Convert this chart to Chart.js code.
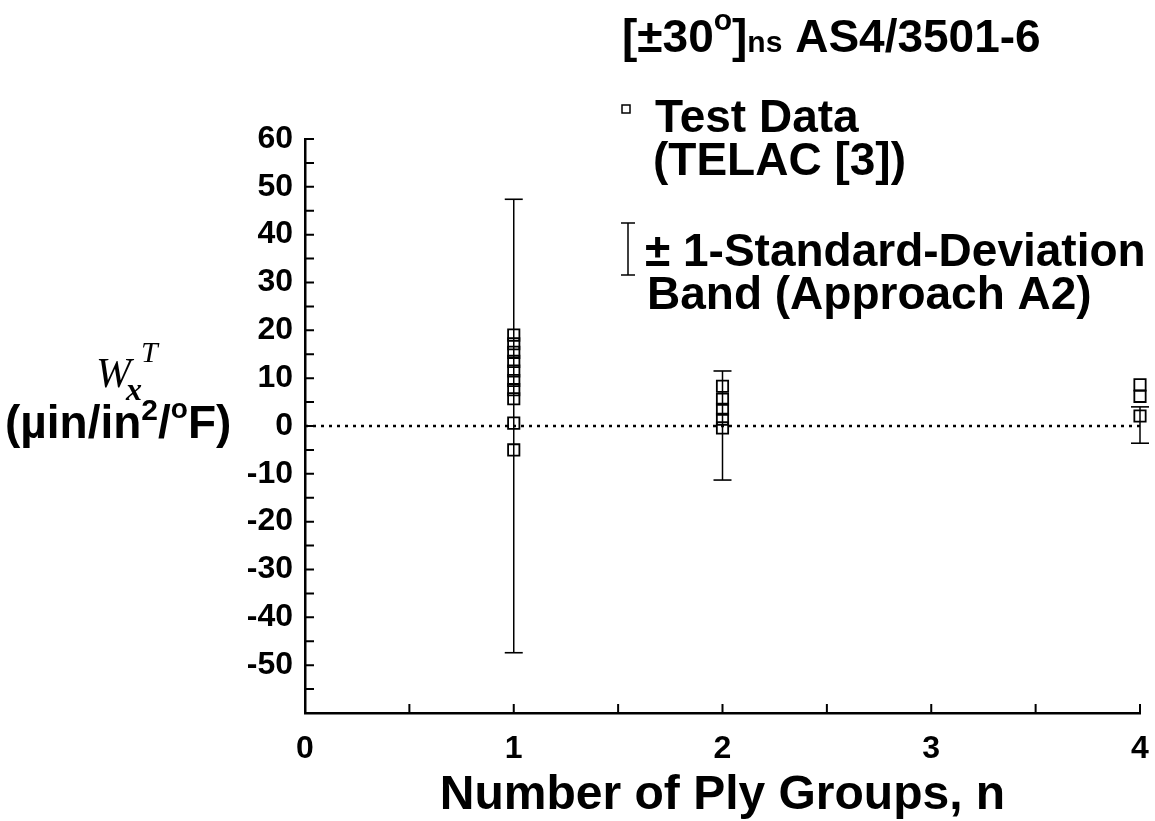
<!DOCTYPE html>
<html>
<head>
<meta charset="utf-8">
<script src="https://cdn.jsdelivr.net/npm/chart.js@4.4.1/dist/chart.umd.min.js"></script>
<style>
  html, body { margin: 0; background: #fff; }
  #wrap { width: 1155px; height: 821px; }
</style>
</head>
<body>
<div id="wrap"><canvas id="plyChart"></canvas></div>
<script>
// thermal warping coefficient vs number of ply groups
const plyGroups = [1, 2, 4];
const testDataN1 = [19.0, 17.2, 15.4, 13.5, 11.5, 9.5, 7.6, 5.7, 0.6, -5.0];
const testDataN2 = [8.3, 5.6, 3.5, 1.4, -0.4];
const testDataN4 = [8.6, 6.2, 2.1];
const bandLow = [-47.4, -11.3, -3.6];
const bandHigh = [47.4, 11.5, 4.0];
const xRange = [0, 4];
const yRange = [-60, 60];
const yMinorStep = 5;
const xMinorStep = 0.5;

const SANS = '"Liberation Sans", Arial, sans-serif';
const SERIF = '"Liberation Serif", "Times New Roman", serif';

const testPoints = [];
[testDataN1, testDataN2, testDataN4].forEach((vals, i) => {
    vals.forEach(v => testPoints.push({ x: plyGroups[i], y: v }));
});

const bandSets = plyGroups.map((n, i) => ({
    type: 'scatter',
    data: [{ x: n, y: bandLow[i] }, { x: n, y: bandHigh[i] }],
    showLine: true,
    clip: false,
    borderColor: '#000',
    borderWidth: 1.5,
    pointStyle: 'line',
    pointRadius: 9,
    pointBorderWidth: 1.6,
    pointBorderColor: '#000'
}));

// draw a row of text pieces with their own font and vertical shift
function drawRuns(ctx, x, baseline, runs) {
    ctx.textAlign = 'left';
    ctx.textBaseline = 'alphabetic';
    runs.forEach(r => {
        ctx.font = r.font;
        ctx.fillText(r.text, x, baseline + (r.dy || 0));
        x += ctx.measureText(r.text).width;
    });
}

const decorations = {
    id: 'decorations',
    afterDraw(chart) {
        const ctx = chart.ctx;
        const xs = chart.scales.x, ys = chart.scales.y;
        ctx.save();
        ctx.strokeStyle = '#000';
        ctx.fillStyle = '#000';

        // inward tick marks
        ctx.lineWidth = 2;
        ctx.beginPath();
        for (let v = yRange[0] + yMinorStep; v <= yRange[1]; v += yMinorStep) {
            const py = ys.getPixelForValue(v);
            ctx.moveTo(xs.left, py);
            ctx.lineTo(xs.left + 9, py);
        }
        for (let v = xRange[0] + xMinorStep; v <= xRange[1]; v += xMinorStep) {
            const px = xs.getPixelForValue(v);
            ctx.moveTo(px, ys.bottom);
            ctx.lineTo(px, ys.bottom - 9);
        }
        ctx.stroke();

        // heading
        const big = 'bold 46px ' + SANS;
        drawRuns(ctx, 622, 52, [
            { text: '[\u00b130', font: big },
            { text: 'o', font: 'bold 30px ' + SANS, dy: -22 },
            { text: ']', font: big },
            { text: 'ns', font: 'bold 30px ' + SANS },
            { text: ' AS4/3501-6', font: big }
        ]);

        // legend
        const leg = 'bold 46px ' + SANS;
        ctx.lineWidth = 1.5;
        ctx.strokeRect(622, 105, 8, 8);
        drawRuns(ctx, 655, 132, [{ text: 'Test Data', font: leg }]);
        drawRuns(ctx, 653, 175, [{ text: '(TELAC [3])', font: leg }]);

        ctx.beginPath();
        ctx.moveTo(628, 223); ctx.lineTo(628, 275);
        ctx.moveTo(621, 223); ctx.lineTo(635, 223);
        ctx.moveTo(621, 275); ctx.lineTo(635, 275);
        ctx.stroke();
        drawRuns(ctx, 645, 266, [{ text: '\u00b1 1-Standard-Deviation', font: leg }]);
        drawRuns(ctx, 647, 309, [{ text: 'Band (Approach A2)', font: leg }]);

        // y axis title
        drawRuns(ctx, 96, 387, [{ text: 'W', font: 'italic 42px ' + SERIF }]);
        drawRuns(ctx, 126, 400, [{ text: 'x', font: 'italic bold 32px ' + SERIF }]);
        drawRuns(ctx, 141, 362, [{ text: 'T', font: 'italic 30px ' + SERIF }]);
        const unit = 'bold 46px ' + SANS;
        drawRuns(ctx, 5, 438, [
            { text: '(\u00b5in/in', font: unit },
            { text: '2', font: 'bold 30px ' + SANS, dy: -18 },
            { text: '/', font: unit },
            { text: 'o', font: 'bold 28px ' + SANS, dy: -20 },
            { text: 'F)', font: unit }
        ]);
        ctx.restore();
    }
};

new Chart(document.getElementById('plyChart'), {
    type: 'scatter',
    data: {
        datasets: [
            {
                data: [{ x: xRange[0], y: 0 }, { x: xRange[1], y: 0 }],
                showLine: true,
                borderColor: '#000',
                borderWidth: 2.5,
                borderDash: [3, 5],
                pointRadius: 0
            },
            ...bandSets,
            {
                data: testPoints,
                clip: false,
                pointStyle: 'rect',
                pointRadius: 8,
                pointBorderWidth: 1.8,
                borderColor: '#000',
                backgroundColor: 'rgba(0,0,0,0)'
            }
        ]
    },
    options: {
        responsive: true,
        maintainAspectRatio: false,
        animation: false,
        events: [],
        layout: { padding: { top: 139, right: 15, left: 0, bottom: 0 } },
        plugins: { legend: { display: false }, tooltip: { enabled: false } },
        scales: {
            x: {
                type: 'linear',
                min: xRange[0],
                max: xRange[1],
                afterFit: s => {
                    s.height = 108;
                    s.paddingLeft = 0;
                    s.paddingRight = 0;
                },
                grid: { display: false, drawTicks: false },
                border: { display: true, color: '#000', width: 2.5 },
                ticks: {
                    stepSize: 1,
                    padding: 17,
                    color: '#000',
                    font: { family: SANS, size: 32, weight: 'bold' }
                },
                title: {
                    display: true,
                    text: 'Number of Ply Groups, n',
                    color: '#000',
                    padding: { top: 0, bottom: -4 },
                    font: { family: SANS, size: 48, weight: 'bold' }
                }
            },
            y: {
                type: 'linear',
                min: yRange[0],
                max: yRange[1],
                afterFit: s => { s.width = 305; },
                grid: { display: false, drawTicks: false },
                border: { display: true, color: '#000', width: 2.5 },
                ticks: {
                    stepSize: 10,
                    autoSkip: false,
                    padding: 12,
                    color: '#000',
                    font: { family: SANS, size: 32, weight: 'bold' },
                    callback: v => (v === yRange[0] ? '' : v)
                }
            }
        }
    },
    plugins: [decorations]
});
</script>
</body>
</html>
